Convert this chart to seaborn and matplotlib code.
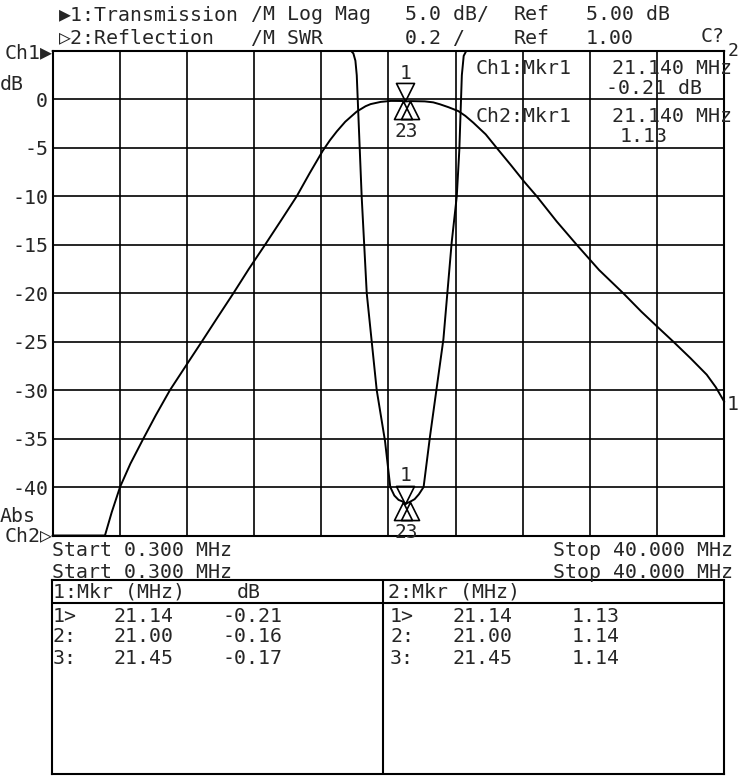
import numpy as np
import pandas as pd
import matplotlib
matplotlib.use('Agg')
import matplotlib.pyplot as plt
from matplotlib.path import Path
import seaborn as sns

# --- data ---
# Ch1 transmission, log mag (dB) vs frequency (MHz)
freq_tx = [0.3, 3.4, 3.8, 4.29, 4.9, 5.67, 6.4, 7.24, 8.29, 9.12, 10.05, 10.99,
           11.9, 12.86, 13.8, 14.73, 15.5, 16.27, 16.7, 17.10, 17.6, 18.28, 18.8,
           19.1, 19.7, 20.3, 21.0, 21.14, 21.45, 22.3, 22.8, 23.2, 23.7, 24.28,
           24.7, 25.17, 25.9, 26.55, 27.4, 28.18, 28.92, 30.1, 31.28, 32.6, 34.03,
           35.1, 36.13, 36.99, 38.0, 38.96, 39.5, 40.0]
tx_db = [-45, -45, -42.6, -40, -37.6, -35, -32.6, -30, -27.2, -25, -22.5, -20,
         -17.5, -15, -12.5, -10, -7.6, -5.3, -4.2, -3.3, -2.3, -1.25, -0.7,
         -0.48, -0.25, -0.15, -0.16, -0.21, -0.17, -0.2, -0.3, -0.5, -0.8, -1.2,
         -1.7, -2.4, -3.6, -5.0, -6.8, -8.5, -10.0, -12.6, -15.0, -17.6, -20.0,
         -21.9, -23.6, -25.0, -26.7, -28.4, -29.7, -31.2]

# Ch2 reflection, SWR vs frequency (MHz)
freq_swr = [0.3, 17.95, 18.08, 18.2, 18.28, 18.57, 18.87, 19.46, 19.95, 20.26,
            20.5, 20.75, 21.0, 21.14, 21.45, 21.7, 21.95, 22.23, 22.61, 23.40,
            23.89, 24.19, 24.34, 24.49, 24.6, 24.75, 40.0]
swr = [3.0, 3.0, 2.99, 2.96, 2.90, 2.40, 2.0, 1.60, 1.39, 1.20,
       1.165, 1.147, 1.14, 1.13, 1.14, 1.15, 1.17, 1.20, 1.41, 1.81,
       2.21, 2.40, 2.59, 2.90, 2.98, 3.0, 3.0]

# markers 1, 2, 3
mk_freq = [21.14, 21.00, 21.45]
mk_db = [-0.21, -0.16, -0.17]
mk_swr = [1.13, 1.14, 1.14]

ytick_vals = [-40, -35, -30, -25, -20, -15, -10, -5, 0]

df_tx = pd.DataFrame({'f': freq_tx, 'v': tx_db})
df_swr = pd.DataFrame({'f': freq_swr, 'v': swr})

sns.set_style('white')
plt.rcParams['font.family'] = ['DejaVu Sans Mono', 'DejaVu Sans']
plt.rcParams['axes.unicode_minus'] = False

W, H = 739, 776
FS = 14.3
fig = plt.figure(figsize=(W / 100, H / 100), dpi=100)
ax = fig.add_axes([52.5 / W, (H - 535.5) / H, 671.8 / W, 484.5 / H])

ax.set_xlim(0.3, 40.0)
ax.set_ylim(-45, 5)
ax.set_xticks(np.linspace(0.3, 40.0, 11))
ax.set_xticklabels([])
ax.set_yticks(np.arange(-45, 6, 5))
ax.set_yticklabels(['' if v not in ytick_vals else str(v) for v in range(-45, 6, 5)],
                   fontsize=FS)
ax.tick_params(length=0, pad=3.2)
ax.grid(True, color='black', lw=1.2)
for s in ax.spines.values():
    s.set_color('black')
    s.set_linewidth(1.5)

sns.lineplot(data=df_tx, x='f', y='v', ax=ax, color='black', lw=1.4,
             estimator=None, sort=False, clip_on=False)
ax.set_xlabel('')
ax.set_ylabel('')

ax2 = ax.twinx()
ax2.set_ylim(1.0, 3.0)
sns.lineplot(data=df_swr, x='f', y='v', ax=ax2, color='black', lw=1.4,
             estimator=None, sort=False, clip_on=False)
ax2.set_axis_off()

# marker triangles with tip on the trace
tri_down = Path([(0, 0), (-0.5, 1), (0.5, 1), (0, 0)])
tri_up = Path([(0, 0), (-0.5, -1), (0.5, -1), (0, 0)])
for a, vals in [(ax, mk_db), (ax2, mk_swr)]:
    a.plot(mk_freq[0], vals[0], marker=tri_down, ms=26, mfc='none', mec='black',
           mew=1.2, clip_on=False)
    for f, v in zip(mk_freq[1:], vals[1:]):
        a.plot(f, v, marker=tri_up, ms=26, mfc='none', mec='black', mew=1.2,
               clip_on=False)
    a.annotate('1', (mk_freq[0], vals[0]), xytext=(0, 20.5), textcoords='offset points',
               ha='center', va='center', fontsize=14)
    a.annotate('23', ((mk_freq[1] + mk_freq[2]) / 2, vals[1]), xytext=(0, -22),
               textcoords='offset points', ha='center', va='center', fontsize=14)


def put(x, y, s, ha='left', fs=FS):
    fig.text(x / W, 1 - y / H, s, ha=ha, va='center', fontsize=fs)


# header
put(59, 15, '\u25b61:Transmission')
put(251, 15, '/M Log Mag')
put(405, 15, '5.0 dB/')
put(514, 15, 'Ref')
put(586, 15, '5.00 dB')
put(59, 38, '\u25b72:Reflection')
put(251, 38, '/M SWR')
put(405, 38, '0.2 /')
put(514, 38, 'Ref')
put(586, 38, '1.00')
put(701, 37, 'C?')

# left labels
put(53, 53, 'Ch1\u25b6', ha='right')
put(0, 84, 'dB')
put(0, 516, 'Abs')
put(53, 536, 'Ch2\u25b7', ha='right')
put(728, 51, '2', fs=13)
put(727, 404, '1')

# marker readout inside the grid
put(476, 69, 'Ch1:Mkr1')
put(612, 69, '21.140 MHz')
put(606, 88, '-0.21 dB')
put(476, 117, 'Ch2:Mkr1')
put(612, 117, '21.140 MHz')
put(620, 137, '1.13')

# start / stop
put(52, 551, 'Start 0.300 MHz')
put(52, 573, 'Start 0.300 MHz')
put(553, 551, 'Stop 40.000 MHz')
put(553, 573, 'Stop 40.000 MHz')

# marker table
tb = fig.add_axes([52 / W, (H - 774) / H, 672 / W, 194 / H])
tb.set_xlim(52, 724)
tb.set_ylim(774, 580)
tb.set_xticks([])
tb.set_yticks([])
for s in tb.spines.values():
    s.set_color('black')
    s.set_linewidth(1.5)
tb.axhline(603, color='black', lw=1.5)
tb.axvline(383, color='black', lw=1.5)

put(53, 592, '1:Mkr (MHz)')
put(237, 592, 'dB')
put(388, 592, '2:Mkr (MHz)')
row_y = [616, 637, 658]
row_tag = ['1>', '2:', '3:']
for i in range(3):
    put(53, row_y[i], row_tag[i])
    put(113, row_y[i], '%.2f' % mk_freq[i])
    put(222, row_y[i], '%.2f' % mk_db[i])
    put(390, row_y[i], row_tag[i])
    put(452, row_y[i], '%.2f' % mk_freq[i])
    put(572, row_y[i], '%.2f' % mk_swr[i])

fig.savefig('out.png', dpi=100, facecolor='white')
